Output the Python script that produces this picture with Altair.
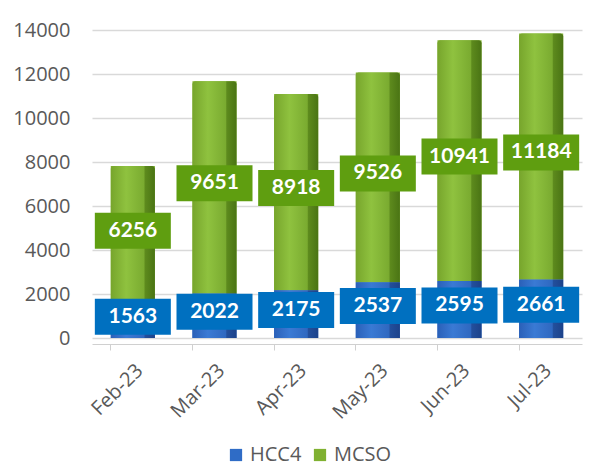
import altair as alt
import pandas as pd

months = ["Feb-23", "Mar-23", "Apr-23", "May-23", "Jun-23", "Jul-23"]
hcc4 = [1563, 2022, 2175, 2537, 2595, 2661]
mcso = [6256, 9651, 8918, 9526, 10941, 11184]
series = ["HCC4", "MCSO"]
y_ticks = [0, 2000, 4000, 6000, 8000, 10000, 12000, 14000]

rows = []
for m, h, s in zip(months, hcc4, mcso):
    rows.append({"month": m, "series": "HCC4", "value": h, "base": 0, "top": h, "mid": h / 2})
    rows.append({"month": m, "series": "MCSO", "value": s, "base": h, "top": h + s, "mid": h + s / 2})
df = pd.DataFrame(rows)

FONT = "Lato"
xenc = alt.X("month:N", sort=months, title=None,
             scale=alt.Scale(paddingInner=0.46, paddingOuter=0.23),
             axis=alt.Axis(labelAngle=-45, labelFontSize=20, labelColor="#595959",
                           labelFont="Open Sans", domainColor="#d0d0d0", tickColor="#d0d0d0",
                           tickSize=6, labelPadding=10, offset=6, bandPosition=0))
yenc = alt.Y("base:Q", title=None,
             scale=alt.Scale(domain=[0, 14000], nice=False),
             axis=alt.Axis(values=y_ticks, format="d", labelFontSize=20, labelColor="#595959",
                           labelFont="Open Sans", domain=False, ticks=False,
                           labelPadding=22, gridColor="#d9d9d9", gridWidth=1.5))

base = alt.Chart(df)

legend_bars = base.mark_bar().encode(
    x=xenc, y=yenc, y2="top:Q",
    color=alt.Color("series:N", scale=alt.Scale(domain=series, range=["#2f6cc6", "#80b131"]),
                    legend=alt.Legend(title=None, orient="none", direction="horizontal",
                                      legendX=134, legendY=415, labelFontSize=20,
                                      labelFont="Open Sans", labelColor="#595959",
                                      symbolType="square", symbolSize=150,
                                      symbolStrokeWidth=0, columnPadding=8))
)

green_grad = alt.Gradient(gradient="linear", x1=0, y1=0, x2=1, y2=0, stops=[
    alt.GradientStop(offset=0, color="#77a52c"),
    alt.GradientStop(offset=0.35, color="#8fc23f"),
    alt.GradientStop(offset=0.75, color="#7aab30"),
    alt.GradientStop(offset=0.78, color="#5d8a1d"),
    alt.GradientStop(offset=1, color="#4a7414")])
blue_grad = alt.Gradient(gradient="linear", x1=0, y1=0, x2=1, y2=0, stops=[
    alt.GradientStop(offset=0, color="#2a60b8"),
    alt.GradientStop(offset=0.35, color="#3a7ad4"),
    alt.GradientStop(offset=0.75, color="#2f68c0"),
    alt.GradientStop(offset=0.78, color="#234f9c"),
    alt.GradientStop(offset=1, color="#1c428a")])

green_bars = base.transform_filter(alt.datum.series == "MCSO").mark_bar(
    fill=green_grad, cornerRadiusTopLeft=3, cornerRadiusTopRight=3).encode(x=xenc, y=yenc, y2="top:Q")
blue_bars = base.transform_filter(alt.datum.series == "HCC4").mark_bar(
    fill=blue_grad).encode(x=xenc, y=yenc, y2="top:Q")

box_colors = alt.Scale(domain=series, range=["#0070c0", "#5f9e10"])
boxes = base.mark_tick(thickness=36, size=76, opacity=1).encode(
    x=xenc,
    y=alt.Y("mid:Q", scale=alt.Scale(domain=[0, 14000], nice=False)),
    yOffset=alt.value(-4),
    color=alt.Color("series:N", scale=box_colors, legend=None))
labels = base.mark_text(font=FONT, fontSize=21, fontWeight="bold", color="white", baseline="middle").encode(
    x=xenc,
    y=alt.Y("mid:Q", scale=alt.Scale(domain=[0, 14000], nice=False)),
    yOffset=alt.value(-4),
    text=alt.Text("value:Q", format="d"))

chart = alt.layer(legend_bars, green_bars, blue_bars, boxes, labels).resolve_scale(color="independent").properties(
    width=490, height=308,
    padding={"left": 92, "top": 30, "right": 33, "bottom": 132},
    autosize=alt.AutoSizeParams(type="none"),
    background="white"
).configure_view(stroke=None)

chart.save("out.html", embed_options={"renderer": "svg", "actions": False})
